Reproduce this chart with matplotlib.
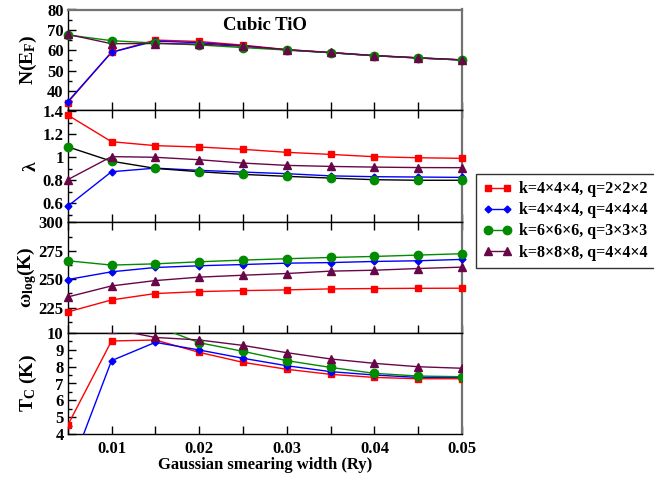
import matplotlib
matplotlib.use("Agg")
import matplotlib.pyplot as plt
import matplotlib.ticker as mticker

# smearing widths (Ry)
smearing = [0.005, 0.01, 0.015, 0.02, 0.025, 0.03, 0.035, 0.04, 0.045, 0.05]

labels = ["k=4×4×4, q=2×2×2", "k=4×4×4, q=4×4×4",
          "k=6×6×6, q=3×3×3", "k=8×8×8, q=4×4×4"]

# N(E_F)
dos_k4q2 = [34.3, 59.0, 65.0, 64.3, 62.5, 60.3, 58.8, 57.3, 56.2, 55.2]
dos_k4q4 = [34.7, 59.0, 64.5, 63.7, 62.2, 60.1, 58.8, 57.3, 56.2, 55.2]
dos_k6q3 = [67.5, 64.7, 63.5, 62.6, 61.3, 60.1, 58.8, 57.3, 56.2, 55.2]
dos_k8q4 = [67.8, 63.2, 63.3, 63.0, 62.0, 60.3, 58.9, 57.4, 56.3, 55.3]

# lambda
lam_k4q2 = [1.365, 1.134, 1.10, 1.088, 1.068, 1.042, 1.024, 1.004, 0.995, 0.99]
lam_k4q4 = [0.575, 0.874, 0.905, 0.886, 0.871, 0.857, 0.838, 0.831, 0.828, 0.825]
lam_k6q3 = [1.09, 0.965, 0.903, 0.874, 0.851, 0.834, 0.819, 0.805, 0.80, 0.80]
lam_k8q4 = [0.805, 1.005, 0.999, 0.978, 0.949, 0.929, 0.92, 0.914, 0.91, 0.909]

# omega_log (K)
wlog_k4q2 = [221.2, 231.8, 237.4, 239.1, 240.0, 240.6, 241.5, 241.8, 242.0, 242.1]
wlog_k4q4 = [249.7, 256.5, 260.3, 261.8, 262.9, 264.1, 264.6, 265.6, 266.2, 267.4]
wlog_k6q3 = [266.2, 262.4, 263.5, 265.3, 266.8, 268.0, 269.1, 270.0, 271.2, 272.4]
wlog_k8q4 = [234.4, 244.1, 248.8, 251.8, 253.5, 255.0, 257.1, 257.9, 259.4, 260.6]

# Tc (K)
tc_k4q2 = [4.53, 9.51, 9.57, 8.84, 8.25, 7.84, 7.54, 7.36, 7.28, 7.28]
tc_k4q4 = [1.54, 8.35, 9.43, 8.98, 8.49, 8.05, 7.70, 7.50, 7.36, 7.36]
tc_k6q3 = [11.5, 11.0, 10.4, 9.41, 8.90, 8.35, 7.95, 7.60, 7.44, 7.40]
tc_k8q4 = [10.6, 10.22, 9.72, 9.57, 9.25, 8.82, 8.45, 8.19, 7.99, 7.90]

red = "#ff0000"
blue = "#0000ff"
green = "#008b00"
maroon = (103 / 255, 7 / 255, 72 / 255)

styles = [dict(color=red, marker="s", ms=5),
          dict(color=blue, marker="D", ms=3.5),
          dict(color=green, marker="o", ms=6),
          dict(color=maroon, marker="^", ms=5.5)]

plt.rcParams["font.family"] = ["Liberation Serif", "DejaVu Serif"]
plt.rcParams["font.weight"] = "bold"
plt.rcParams["mathtext.fontset"] = "custom"
plt.rcParams["mathtext.rm"] = "Liberation Serif:bold"
plt.rcParams["mathtext.it"] = "Liberation Serif:bold"
plt.rcParams["mathtext.bf"] = "Liberation Serif:bold"

fig = plt.figure(figsize=(6.54, 4.79), dpi=100)

left = 67.7 / 654
width = 394.3 / 654
# (top px, bottom px) of each panel
panel_px = [(9.5, 110.3), (110.3, 222.3), (222.3, 332.7), (332.7, 434.3)]
axes = []
for top, bot in panel_px:
    ax = fig.add_axes([left, 1 - bot / 479, width, (bot - top) / 479])
    axes.append(ax)

panel_data = [
    [dos_k4q2, dos_k4q4, dos_k6q3, dos_k8q4],
    [lam_k4q2, lam_k4q4, lam_k6q3, lam_k8q4],
    [wlog_k4q2, wlog_k4q4, wlog_k6q3, wlog_k8q4],
    [tc_k4q2, tc_k4q4, tc_k6q3, tc_k8q4],
]

handles = []
for i, ax in enumerate(axes):
    for j, series in enumerate(panel_data[i]):
        st = styles[j]
        line_color = st["color"]
        if i == 1 and j == 2:
            line_color = "black"   # the green lambda curve is drawn in black
        ax.plot(smearing, series, color=line_color, lw=1.0, zorder=3)
        ax.plot(smearing, series, ls="none", marker=st["marker"], ms=st["ms"],
                color=st["color"], mec=st["color"], zorder=4,
                clip_on=(i == 3))
        if i == 0:
            handles.append(plt.Line2D([], [], color=st["color"], lw=1.0,
                                      marker=st["marker"], ms=st["ms"]))

ylims = [(30.5, 80), (0.436, 1.406), (203, 300), (4, 10)]
ymajor = [10, 0.2, 25, 1]
yminor = [5, 0.1, 12.5, 0.5]
ylabels = ["N(E$_\\mathrm{F}$)", "λ", "ω$_\\mathrm{log}$(K)", "T$_\\mathrm{C}$ (K)"]

for i, ax in enumerate(axes):
    ax.set_xlim(0.005, 0.05)
    ax.set_ylim(*ylims[i])
    ax.xaxis.set_major_locator(mticker.MultipleLocator(0.01))
    ax.xaxis.set_minor_locator(mticker.MultipleLocator(0.005))
    ax.yaxis.set_major_locator(mticker.MultipleLocator(ymajor[i]))
    ax.yaxis.set_minor_locator(mticker.MultipleLocator(yminor[i]))
    ax.yaxis.set_major_formatter(mticker.FormatStrFormatter("%g"))
    ax.tick_params(which="both", direction="in", labelsize=12, width=1,
                   right=False, top=(i in (1, 2)))
    ax.tick_params(which="major", length=6)
    ax.tick_params(which="minor", length=3)
    ax.tick_params(axis="x", which="minor", length=6)
    ax.tick_params(axis="y", pad=3)
    if i != 3:
        ax.tick_params(axis="x", labelbottom=False)
    else:
        ax.tick_params(axis="x", pad=5)
    ax.spines["right"].set_color("0.45")
    ax.spines["right"].set_linewidth(1.6)
    for s in ["left", "top", "bottom"]:
        ax.spines[s].set_linewidth(1.0)
    ax.set_ylabel(ylabels[i], fontsize=14, fontweight="bold")
    ax.yaxis.set_label_coords(-0.072, 0.5)

axes[0].spines["top"].set_color("0.45")
axes[0].spines["top"].set_linewidth(1.6)

axes[0].text(0.5, 0.845, "Cubic TiO", transform=axes[0].transAxes,
             ha="center", va="center", fontsize=13.5, fontweight="bold")
axes[3].set_xlabel("Gaussian smearing width (Ry)", fontsize=12,
                   fontweight="bold", labelpad=0)

leg = fig.legend(handles, labels, loc="upper left",
                 bbox_to_anchor=(476 / 654, 1 - 174 / 479),
                 fontsize=11.5, numpoints=2, handlelength=1.8,
                 handletextpad=0.45, labelspacing=0.32, borderpad=0.45,
                 borderaxespad=0, frameon=True, fancybox=False)
leg.get_frame().set_edgecolor("black")
leg.get_frame().set_linewidth(1.0)

fig.savefig("out.png", dpi=100)
